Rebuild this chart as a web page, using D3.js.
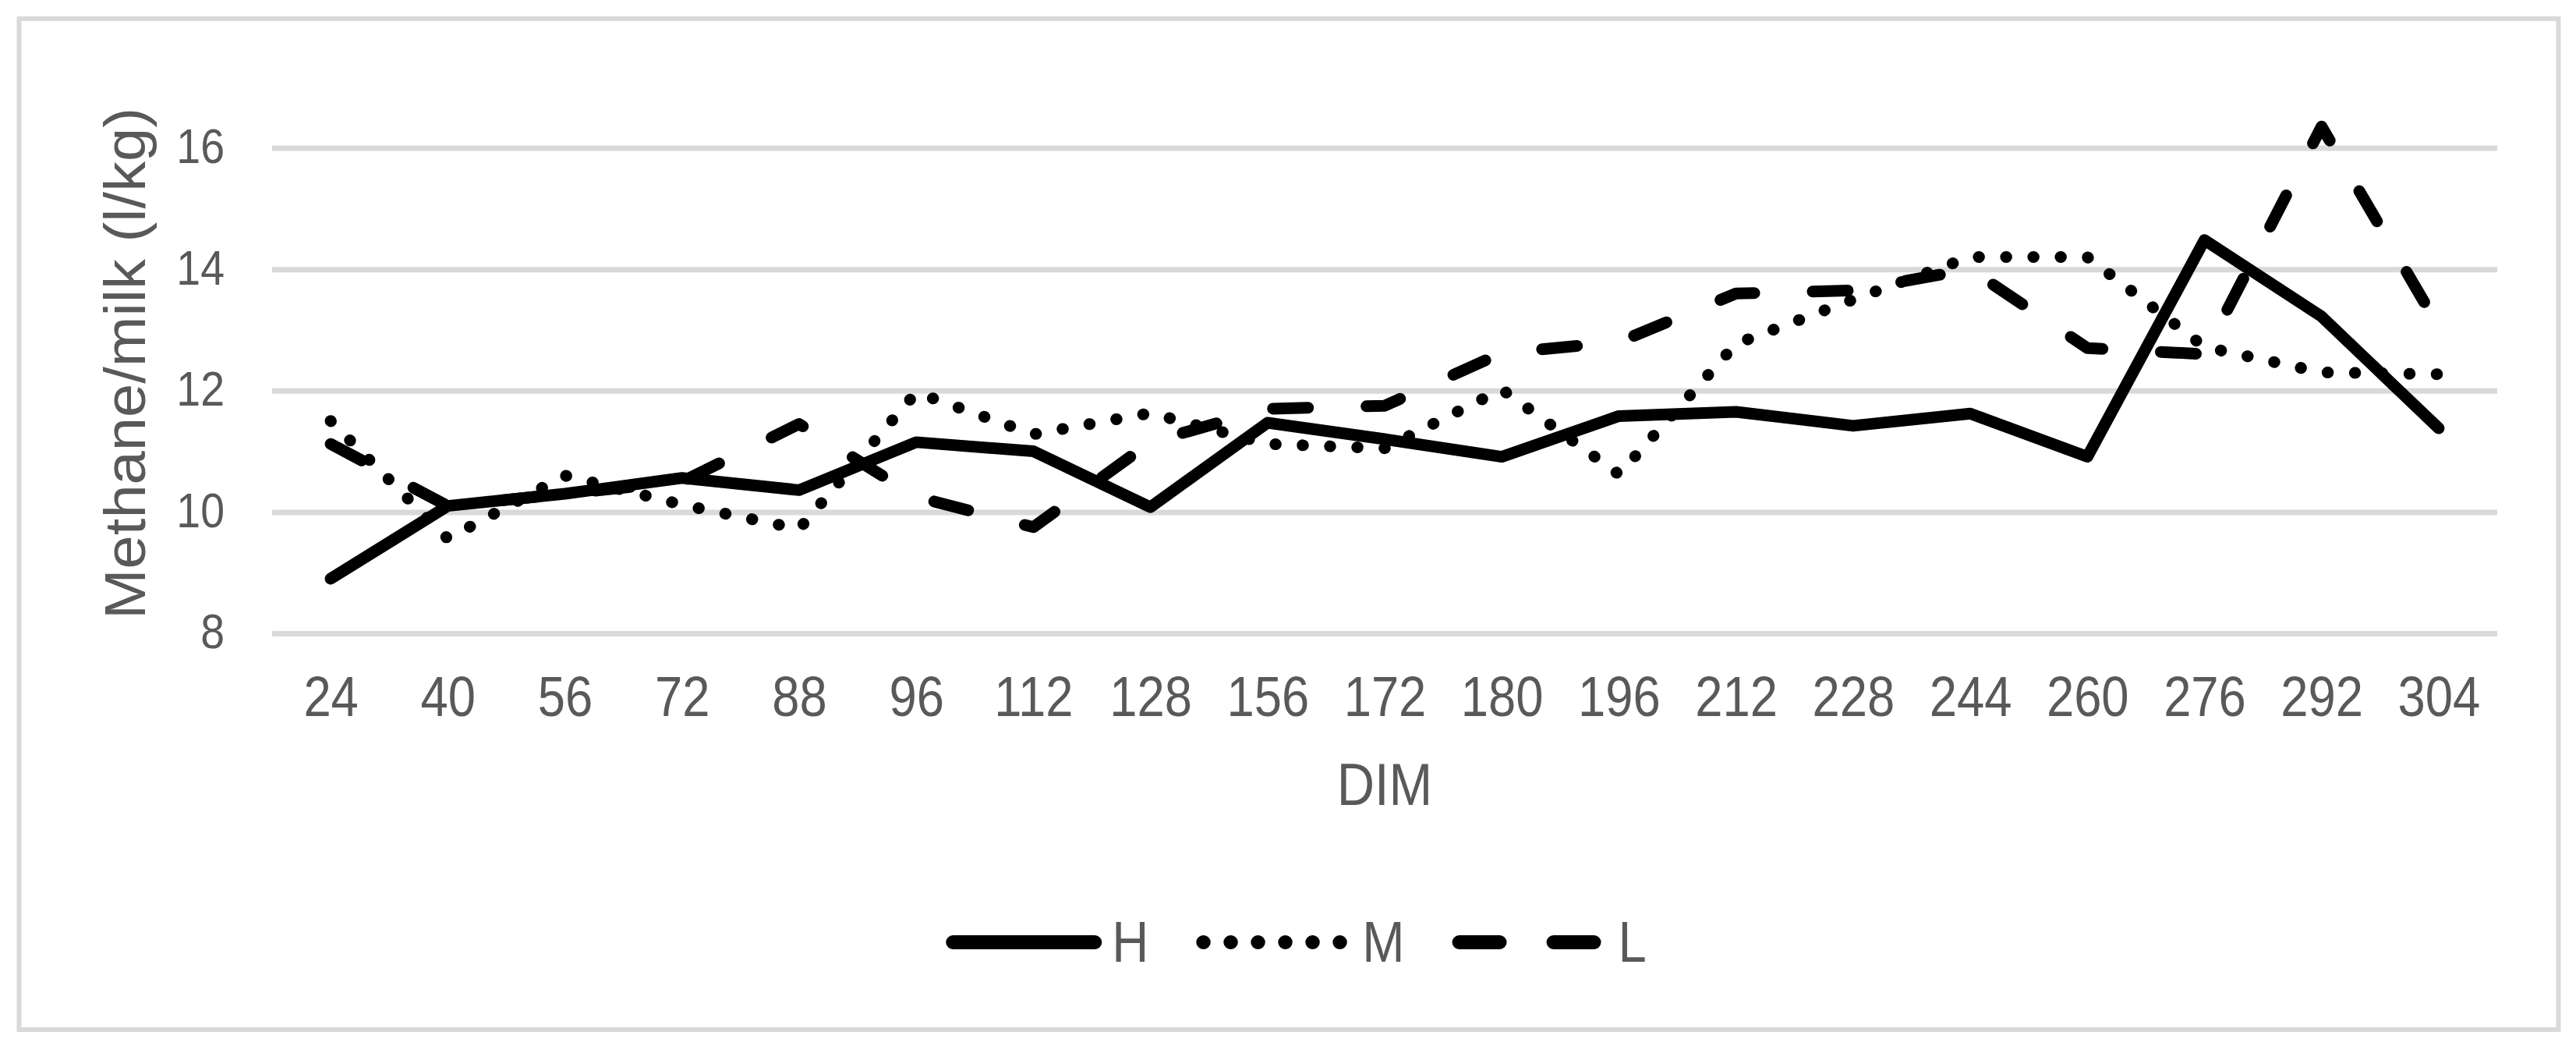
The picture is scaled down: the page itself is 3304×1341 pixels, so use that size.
<!DOCTYPE html>
<html>
<head>
<meta charset="utf-8">
<script src="https://cdn.jsdelivr.net/npm/d3@7"></script>
<style>
  html, body { margin: 0; padding: 0; background: #fff; }
  text { font-family: "Liberation Sans", Arial, sans-serif; }
</style>
</head>
<body>
<svg id="chart" width="3304" height="1341"></svg>
<script>
// datos
const dims = ['24', '40', '56', '72', '88', '96', '112', '128', '156', '172', '180', '196', '212', '228', '244', '260', '276', '292', '304'];
const seriesH = [8.9, 10.1, 10.3, 10.56, 10.36, 11.15, 11.0, 10.08, 11.47, 11.2, 10.91, 11.58, 11.65, 11.42, 11.62, 10.91, 14.48, 13.22, 11.38];
const seriesM = [11.5, 9.56, 10.6, 10.12, 9.72, 11.97, 11.28, 11.63, 11.12, 11.05, 12.02, 10.62, 12.77, 13.5, 14.2, 14.2, 12.72, 12.3, 12.27];
const seriesL = [11.12, 10.1, 10.3, 10.5, 11.45, 10.25, 9.75, 11.15, 11.7, 11.75, 12.62, 12.8, 13.6, 13.65, 14.0, 12.7, 12.6, 16.35, 13.05];
const yTicks = [8, 10, 12, 14, 16];
const seriesNames = ['H', 'M', 'L'];

const series = [
    { name: seriesNames[0], values: seriesH, dash: null, legendDash: null },
    { name: seriesNames[1], values: seriesM, dash: '0.5,34.5', legendDash: '0.5,34.5' },
    { name: seriesNames[2], values: seriesL, dash: '45,75', legendDash: '52,69' }
];

const svg = d3.select('#chart');
const textColor = '#595959';
const gridColor = '#d9d9d9';
const squeeze = 0.88; // el texto original sale algo estrecho

svg.append('rect')
    .attr('width', 3304).attr('height', 1341)
    .attr('fill', '#fff');

// marco exterior
svg.append('rect')
    .attr('x', 24.5).attr('y', 24)
    .attr('width', 3257).attr('height', 1296)
    .attr('fill', 'none')
    .attr('stroke', gridColor)
    .attr('stroke-width', 6);

const plot = { left: 349, right: 3203, top: 189.5, bottom: 812 };

const x = d3.scalePoint()
    .domain(dims)
    .range([plot.left, plot.right])
    .padding(0.5);

const y = d3.scaleLinear()
    .domain([8, 16])
    .range([plot.bottom, plot.top]);

// lineas de cuadricula
const grid = svg.append('g')
    .attr('transform', `translate(${plot.left},0)`)
    .call(d3.axisLeft(y).tickValues(yTicks).tickSize(-(plot.right - plot.left)).tickFormat(''));
grid.select('.domain').remove();
grid.selectAll('line')
    .attr('stroke', gridColor)
    .attr('stroke-width', 7);

// eje Y
const gy = svg.append('g')
    .attr('transform', 'translate(288,0)')
    .call(d3.axisLeft(y).tickValues(yTicks).tickSize(0).tickPadding(0));
gy.select('.domain').remove();
gy.attr('font-family', null).attr('font-size', null);
gy.selectAll('text')
    .attr('x', 0)
    .attr('dy', '0.3em')
    .attr('font-size', 63)
    .attr('fill', textColor)
    .attr('transform', `scale(${squeeze},1)`);

// eje X
const gx = svg.append('g')
    .attr('transform', 'translate(0,918)')
    .call(d3.axisBottom(x).tickSize(0).tickPadding(0));
gx.select('.domain').remove();
gx.attr('font-family', null).attr('font-size', null);
gx.selectAll('text')
    .attr('y', 0)
    .attr('dy', 0)
    .attr('font-size', 72)
    .attr('fill', textColor)
    .attr('transform', `scale(${squeeze},1)`);

// titulos
svg.append('text')
    .attr('transform', `translate(1776,1032) scale(${squeeze},1)`)
    .attr('text-anchor', 'middle')
    .attr('font-size', 76)
    .attr('fill', textColor)
    .text('DIM');

svg.append('text')
    .attr('transform', 'translate(186,466) rotate(-90) scale(1.05,1)')
    .attr('text-anchor', 'middle')
    .attr('font-size', 74)
    .attr('fill', textColor)
    .text('Methane/milk (l/kg)');

// series
const line = d3.line()
    .x((d, i) => x(dims[i]))
    .y(d => y(d));

series.forEach(s => {
    svg.append('path')
        .datum(s.values)
        .attr('d', line)
        .attr('fill', 'none')
        .attr('stroke', '#000')
        .attr('stroke-width', 15)
        .attr('stroke-linejoin', 'round')
        .attr('stroke-linecap', 'round')
        .attr('stroke-dasharray', s.dash);
});

// leyenda
const legendY = 1208;
const lineLen = 182;
const legend = svg.append('g');
let cursor = 0;
series.forEach(s => {
    const item = legend.append('g').attr('transform', `translate(${cursor},0)`);
    item.append('line')
        .attr('x1', 0).attr('x2', lineLen)
        .attr('y1', legendY).attr('y2', legendY)
        .attr('stroke', '#000')
        .attr('stroke-width', 18)
        .attr('stroke-linecap', 'round')
        .attr('stroke-dasharray', s.legendDash);
    const t = item.append('text')
        .attr('transform', `translate(${lineLen + 22},${legendY + 25}) scale(${squeeze},1)`)
        .attr('font-size', 74)
        .attr('fill', textColor)
        .text(s.name);
    const w = t.node().getComputedTextLength() * squeeze;
    cursor += lineLen + 22 + w + 70;
});
const legendWidth = cursor - 70;
legend.attr('transform', `translate(${1667 - legendWidth / 2},0)`);
</script>
</body>
</html>
